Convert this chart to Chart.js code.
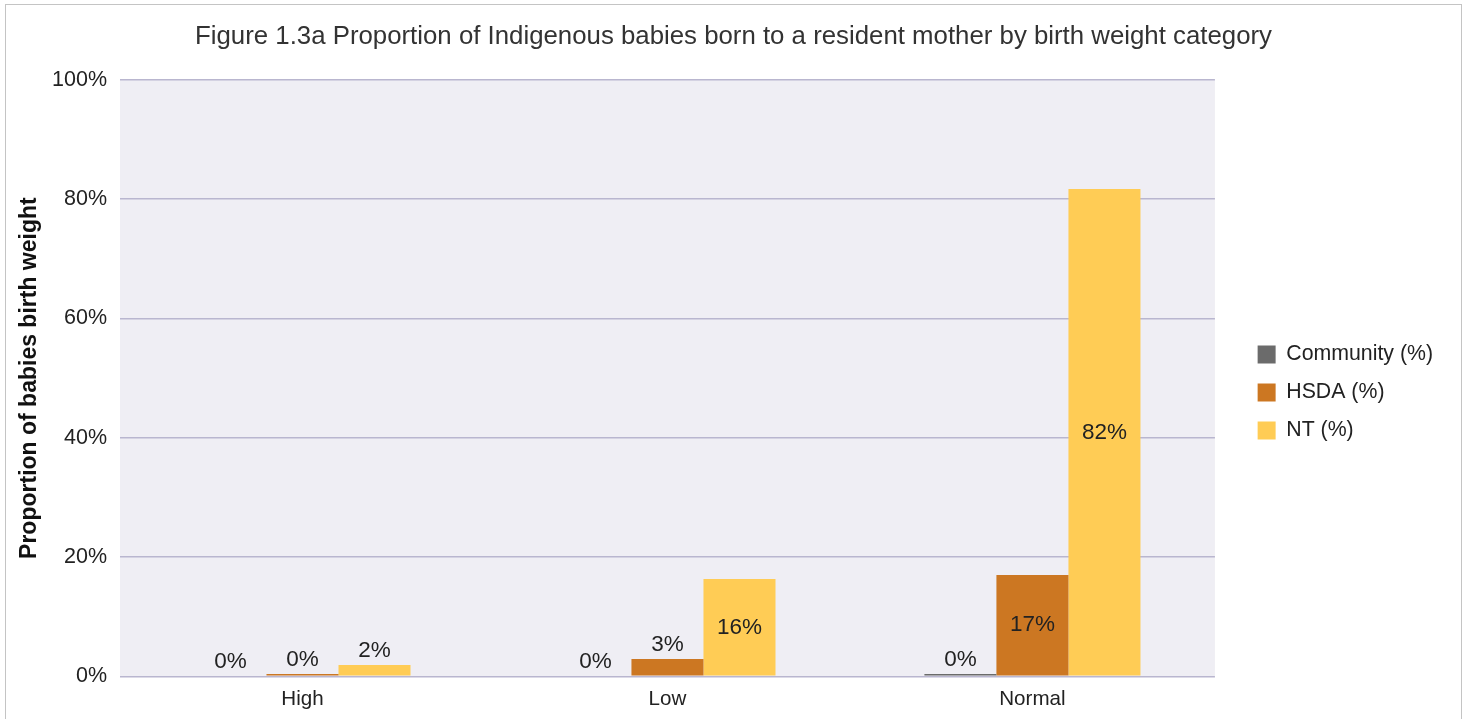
<!DOCTYPE html>
<html>
<head>
<meta charset="utf-8">
<title>Figure 1.3a</title>
<script src="https://cdn.jsdelivr.net/npm/chart.js@4/dist/chart.umd.min.js"></script>
<style>
  html, body { margin: 0; padding: 0; background: #fff; }
  #wrap { position: relative; width: 1467px; height: 719px; overflow: hidden; }
  #frame { position: absolute; left: 5px; top: 4px; width: 1455px; height: 760px; border: 1px solid #c4c4c4; pointer-events: none; }
  canvas { position: absolute; left: 0; top: 0; }
</style>
</head>
<body>
<div id="wrap">
  <canvas id="chart" width="1467" height="719"></canvas>
  <div id="frame"></div>
</div>
<script>
  // values
  const categories = ['High', 'Low', 'Normal'];
  const communityPct = [0, 0, 0.4];
  const hsdaPct = [0.4, 2.9, 17.0];
  const ntPct = [1.9, 16.3, 81.7];
  const seriesNames = ['Community (%)', 'HSDA (%)', 'NT (%)'];
  const yTicks = [0, 20, 40, 60, 80, 100];

  const FONT = "'Liberation Sans', Arial, sans-serif";
  const TEXT = '#222';

  // light lavender plot background
  const plotBackground = {
    id: 'plotBackground',
    beforeDraw(chart) {
      const { ctx, chartArea: a } = chart;
      ctx.save();
      ctx.fillStyle = '#efeef4';
      ctx.fillRect(a.left, a.top, a.right - a.left, a.bottom - a.top);
      ctx.restore();
    }
  };

  // value labels: inside the bar when it is tall, above it otherwise
  const valueLabels = {
    id: 'valueLabels',
    afterDatasetsDraw(chart) {
      const ctx = chart.ctx;
      ctx.save();
      ctx.font = '22.5px ' + FONT;
      ctx.fillStyle = TEXT;
      ctx.textAlign = 'center';
      ctx.textBaseline = 'middle';
      chart.data.datasets.forEach((ds, i) => {
        chart.getDatasetMeta(i).data.forEach((bar, j) => {
          const txt = Math.round(ds.data[j]) + '%';
          const h = bar.base - bar.y;
          const y = h > 40 ? (bar.y + bar.base) / 2 : bar.y - 14;
          ctx.fillText(txt, bar.x, y);
        });
      });
      ctx.restore();
    }
  };

  const spacer = (w, weight) => ({
    position: 'right',
    display: true,
    weight: weight,
    grid: { display: false },
    border: { display: false },
    ticks: { display: false },
    afterFit: s => { s.width = w; }
  });

  new Chart(document.getElementById('chart'), {
    type: 'bar',
    data: {
      labels: categories,
      datasets: [
        { label: seriesNames[0], data: communityPct, backgroundColor: '#6b6b6b' },
        { label: seriesNames[1], data: hsdaPct, backgroundColor: '#cc7722' },
        { label: seriesNames[2], data: ntPct, backgroundColor: '#ffcc55' }
      ]
    },
    options: {
      responsive: false,
      animation: false,
      categoryPercentage: 0.592,
      barPercentage: 1.0,
      layout: { padding: { left: 0, right: 0, top: 0, bottom: -4 } },
      plugins: {
        title: {
          display: true,
          text: 'Figure 1.3a Proportion of Indigenous babies born to a resident mother by birth weight category',
          color: '#333',
          font: { family: FONT, size: 25.8, weight: 'normal' },
          padding: { top: 21.5, bottom: 27.5 }
        },
        legend: {
          position: 'right',
          maxWidth: 300,
          title: { display: true, text: ' ', color: 'rgba(0,0,0,0)', font: { size: 20 }, padding: 19 },
          labels: {
            color: TEXT,
            font: { family: FONT, size: 21.3 },
            boxWidth: 18,
            boxHeight: 18,
            padding: 16.7
          }
        },
        tooltip: { enabled: false }
      },
      scales: {
        x: {
          grid: { display: false, drawTicks: false },
          border: { display: false },
          ticks: { color: TEXT, font: { family: FONT, size: 20.6 }, padding: 11 }
        },
        y: {
          min: 0,
          max: 100,
          afterBuildTicks: s => { s.ticks = yTicks.map(v => ({ value: v })); },
          afterFit: s => { s.width = 120; },
          grid: { color: '#b9b6cf', lineWidth: 1.5, drawTicks: false },
          border: { display: false },
          ticks: { color: TEXT, font: { family: FONT, size: 21.5 }, padding: 13, callback: v => v + '%' },
          title: {
            display: true,
            text: 'Proportion of babies birth weight',
            color: '#111',
            font: { family: FONT, size: 23, weight: 'bold' },
            padding: { top: 16, bottom: 0 }
          }
        },
        gapIn: spacer(26, 1),
        gapOut: spacer(24, 2000)
      }
    },
    plugins: [plotBackground, valueLabels]
  });
</script>
</body>
</html>
